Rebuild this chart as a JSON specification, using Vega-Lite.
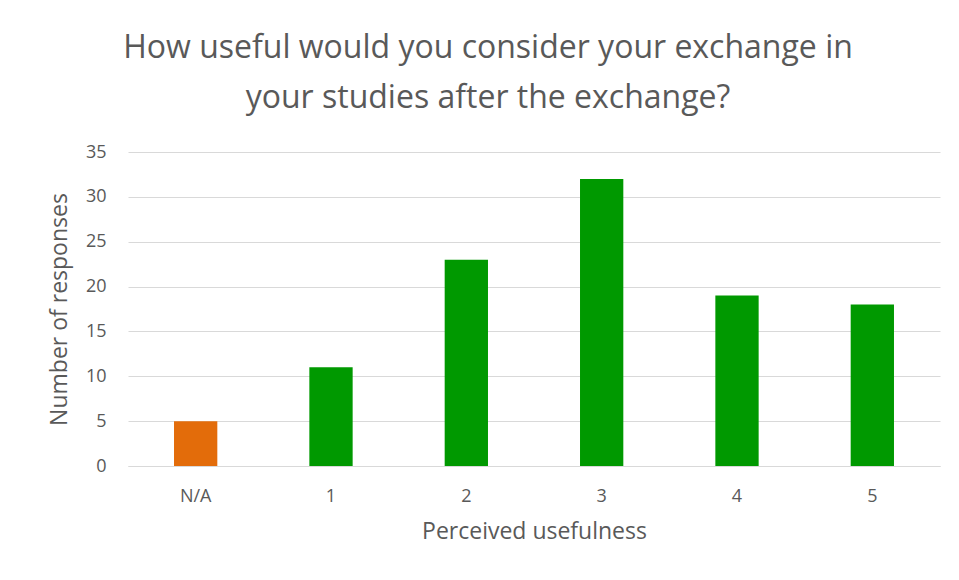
{
  "$schema": "https://vega.github.io/schema/vega-lite/v6.json",
  "autosize": {"type": "none"},
  "width": 812,
  "height": 314,
  "padding": {"left": 128, "top": 152, "right": 19, "bottom": 114},
  "background": "white",
  "title": {
    "text": ["How useful would you consider your exchange in", "your studies after the exchange?"],
    "font": "Open Sans",
    "fontSize": 32,
    "fontWeight": "normal",
    "color": "#595959",
    "anchor": "middle",
    "dx": -46,
    "lineHeight": 50,
    "offset": 28
  },
  "data": {
    "values": [
      {"rating": "N/A", "count": 5, "type": "na"},
      {"rating": "1", "count": 11, "type": "rated"},
      {"rating": "2", "count": 23, "type": "rated"},
      {"rating": "3", "count": 32, "type": "rated"},
      {"rating": "4", "count": 19, "type": "rated"},
      {"rating": "5", "count": 18, "type": "rated"}
    ]
  },
  "mark": {"type": "bar"},
  "encoding": {
    "x": {
      "field": "rating",
      "type": "nominal",
      "sort": null,
      "scale": {"paddingInner": 0.68, "paddingOuter": 0.34},
      "axis": {
        "title": "Perceived usefulness",
        "labelAngle": 0,
        "ticks": false,
        "domain": true,
        "domainColor": "#d9d9d9",
        "labelPadding": 21,
        "titlePadding": 15
      }
    },
    "y": {
      "field": "count",
      "type": "quantitative",
      "scale": {"domain": [0, 35]},
      "axis": {
        "title": "Number of responses",
        "values": [0, 5, 10, 15, 20, 25, 30, 35],
        "ticks": false,
        "domain": false,
        "labelPadding": 22,
        "titlePadding": 14,
        "gridColor": "#d9d9d9"
      }
    },
    "color": {
      "field": "type",
      "type": "nominal",
      "scale": {"domain": ["na", "rated"], "range": ["#E36C0A", "#009900"]},
      "legend": null
    }
  },
  "config": {
    "font": "Open Sans",
    "view": {"stroke": null},
    "axis": {
      "labelFont": "Open Sans",
      "labelFontSize": 18,
      "labelColor": "#595959",
      "titleFont": "Open Sans",
      "titleFontSize": 23,
      "titleFontWeight": "normal",
      "titleColor": "#595959",
      "gridWidth": 1
    }
  }
}
